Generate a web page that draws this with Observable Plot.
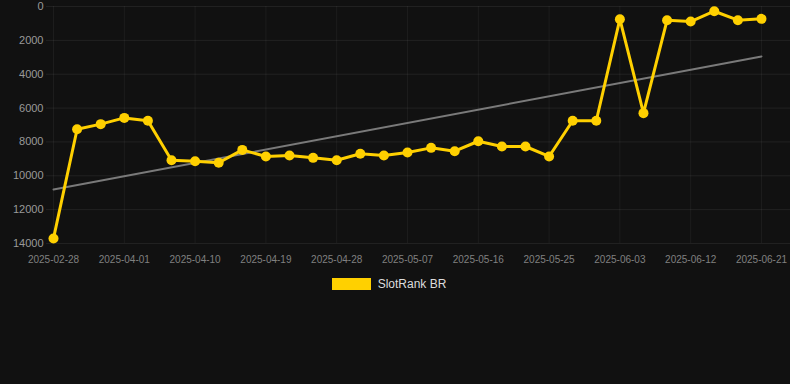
<!DOCTYPE html>
<html>
<head>
<meta charset="utf-8">
<script src="https://cdn.jsdelivr.net/npm/d3@7"></script>
<script src="https://cdn.jsdelivr.net/npm/@observablehq/plot@0.6"></script>
<style>
  html, body { margin: 0; padding: 0; background: #111111; }
  body { width: 790px; height: 384px; overflow: hidden; font-family: Arial, "Liberation Sans", sans-serif; }
  #legend { display: flex; justify-content: center; align-items: center; height: 20px; margin-top: 6px; padding-right: 12px; }
  #legend .sw { width: 39px; height: 12px; background: #FFD000; margin-right: 7px; }
  #legend .lb { color: #dddddd; font-size: 12px; }
</style>
</head>
<body>
<div id="chart"></div>
<div id="legend"><div class="sw"></div><div class="lb">SlotRank BR</div></div>
<script>
const dates = [
  "2025-02-28","2025-03-26","2025-03-29","2025-04-01","2025-04-04","2025-04-07","2025-04-10",
  "2025-04-13","2025-04-16","2025-04-19","2025-04-22","2025-04-25","2025-04-28","2025-05-01",
  "2025-05-04","2025-05-07","2025-05-10","2025-05-13","2025-05-16","2025-05-19","2025-05-22",
  "2025-05-25","2025-05-28","2025-05-31","2025-06-03","2025-06-06","2025-06-09","2025-06-12",
  "2025-06-15","2025-06-18","2025-06-21"
];
const ranks = [
  13700, 7250, 6950, 6580, 6750, 9080, 9140, 9230, 8470, 8860, 8800, 8940, 9080, 8700,
  8800, 8620, 8350, 8550, 7960, 8270, 8270, 8860, 6750, 6750, 750, 6300, 810, 890,
  280, 810, 730
];
const yTicks = [0, 2000, 4000, 6000, 8000, 10000, 12000, 14000];
const xTickIdx = [0, 3, 6, 9, 12, 15, 18, 21, 24, 27, 30];

const data = dates.map((d, i) => ({i, date: d, rank: ranks[i]}));

// linear regression trend over index
const n = ranks.length;
const mx = d3.mean(data, d => d.i), my = d3.mean(ranks);
const slope = d3.sum(data, d => (d.i - mx) * (d.rank - my)) / d3.sum(data, d => (d.i - mx) ** 2);
const trend = [0, n - 1].map(i => ({i, rank: my + slope * (i - mx)}));

const chart = Plot.plot({
  width: 790,
  height: 268,
  marginLeft: 46,
  marginRight: 0,
  marginTop: 6,
  marginBottom: 25,
  style: {background: "#111111", fontFamily: "Arial, 'Liberation Sans', sans-serif"},
  x: {type: "linear", domain: [-0.297, 31.23], label: null},
  y: {domain: [0, 14000], reverse: true, label: null},
  marks: [
    Plot.gridY(yTicks, {stroke: "#ffffff", strokeOpacity: 0.07, strokeWidth: 1}),
    Plot.gridX(xTickIdx, {stroke: "#ffffff", strokeOpacity: 0.05, strokeWidth: 1}),
    Plot.axisY(yTicks, {tickSize: 0, tickPadding: 3, fontSize: 11, fill: "#9a9a9a", tickFormat: d => String(d), label: null}),
    Plot.axisX(xTickIdx, {tickSize: 0, tickPadding: 12, fontSize: 10, fill: "#808080", tickFormat: i => dates[i], label: null}),
    Plot.line(trend, {x: "i", y: "rank", stroke: "#7a7a7a", strokeWidth: 2}),
    Plot.line(data, {x: "i", y: "rank", stroke: "#FFD000", strokeWidth: 3}),
    Plot.dot(data, {x: "i", y: "rank", r: 5, fill: "#FFD000", stroke: "none"})
  ]
});
document.getElementById("chart").appendChild(chart);
</script>
</body>
</html>
